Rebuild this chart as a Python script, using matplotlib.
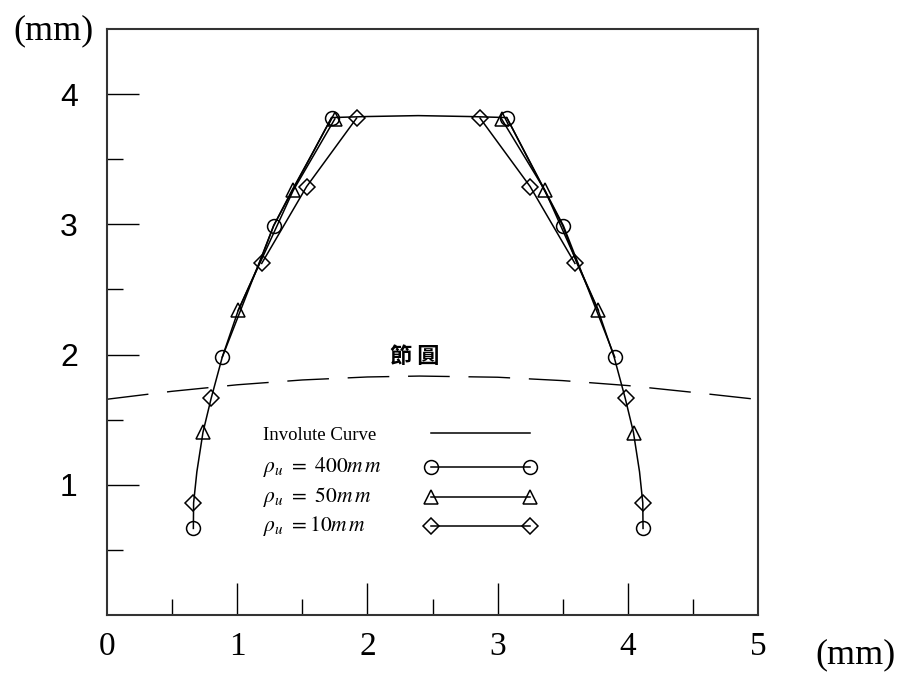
import matplotlib
matplotlib.use("Agg")
import matplotlib.pyplot as plt
from matplotlib.lines import Line2D

# ---------------- data ----------------
# involute curve: left flank (bottom -> top), tip arc, right flank (top -> bottom)
involute_x = [0.663, 0.665, 0.690, 0.737, 0.800, 0.885, 1.008, 1.170, 1.280, 1.420, 1.580, 1.725,
              2.000, 2.390, 2.780,
              3.070, 3.210, 3.360, 3.500, 3.610, 3.772, 3.895, 3.980, 4.043, 4.090, 4.115, 4.117]
involute_y = [0.665, 0.862, 1.100, 1.404, 1.665, 1.980, 2.340, 2.700, 2.990, 3.260, 3.550, 3.820,
              3.828, 3.835, 3.828,
              3.820, 3.550, 3.260, 2.990, 2.700, 2.340, 1.980, 1.665, 1.404, 1.100, 0.862, 0.665]

# rho_u = 400 mm (circles)
r400_left_x = [0.663, 0.885, 1.280, 1.725]
r400_left_y = [0.665, 1.980, 2.990, 3.820]
r400_right_x = [3.070, 3.505, 3.900, 4.120]
r400_right_y = [3.820, 2.990, 1.980, 0.665]

# rho_u = 50 mm (triangles)
r50_left_x = [0.737, 1.008, 1.430, 1.750]
r50_left_y = [1.404, 2.340, 3.260, 3.810]
r50_right_x = [3.030, 3.364, 3.774, 4.050]
r50_right_y = [3.810, 3.260, 2.340, 1.394]

# rho_u = 10 mm (diamonds)
r10_left_x = [0.663, 0.800, 1.188, 1.533, 1.917]
r10_left_y = [0.862, 1.665, 2.700, 3.290, 3.816]
r10_right_x = [2.865, 3.250, 3.594, 3.983, 4.120]
r10_right_y = [3.816, 3.290, 2.700, 1.663, 0.862]

# pitch circle (dashed)
pitch_x = [0.0, 0.5, 1.0, 1.5, 2.0, 2.4, 3.0, 3.5, 4.0, 4.5, 5.0]
pitch_y = [1.657, 1.718, 1.768, 1.805, 1.828, 1.835, 1.826, 1.800, 1.762, 1.710, 1.655]

x_ticks = [0, 1, 2, 3, 4, 5]
x_minor = [0.5, 1.5, 2.5, 3.5, 4.5]
y_ticks = [1, 2, 3, 4]
y_minor = [0.5, 1.5, 2.5, 3.5]

labels = ["Involute Curve",
          r"$\rho_u\ =\ 400\mathit{m\,m}$",
          r"$\rho_u\ =\ 50\mathit{m\,m}$",
          r"$\rho_u\ =10\mathit{m\,m}$"]
pitch_label = "節 圓"
unit = "(mm)"

# ---------------- figure ----------------
plt.rcParams["mathtext.fontset"] = "stix"
plt.rcParams["font.family"] = ["Liberation Serif", "DejaVu Serif"]

fig = plt.figure(figsize=(9.04, 6.78), dpi=100)
ax = fig.add_axes([0.1184, 0.0929, 0.7201, 0.8643])
ax.set_xlim(0, 5)
ax.set_ylim(0, 4.5)

lw = 1.1
ms = 10
black = "black"

# involute curve
ax.plot(involute_x, involute_y, color=black, lw=lw)

# series: markers everywhere, lines on the upper (deviating) part
series = [
    (r400_left_x, r400_left_y, r400_right_x, r400_right_y, "o", 1, 3, ms),
    (r50_left_x, r50_left_y, r50_right_x, r50_right_y, "^", 1, 3, ms),
    (r10_left_x, r10_left_y, r10_right_x, r10_right_y, "D", 2, 3, ms * 0.8),
]
for lx, ly, rx, ry, mk, lstart, rend, size in series:
    ax.plot(lx[lstart:], ly[lstart:], color=black, lw=lw)
    ax.plot(rx[:rend], ry[:rend], color=black, lw=lw)
    ax.plot(lx, ly, ls="none", marker=mk, ms=size, mfc="none", mec=black, mew=1.1)
    ax.plot(rx, ry, ls="none", marker=mk, ms=size, mfc="none", mec=black, mew=1.1)

# pitch circle
ax.plot(pitch_x, pitch_y, color=black, lw=1.0, dashes=(30, 13.5))
ax.text(0.473, 0.442, pitch_label, transform=ax.transAxes, ha="center", va="center",
        fontsize=16, fontweight="bold", family=["Noto Sans CJK TC", "DejaVu Sans"])

# legend (drawn manually: text left, sample right)
row_y = [0.307, 0.2526, 0.2014, 0.152]
sizes = [13.5, 15.5, 15.5, 15.5]
handles = [("none", 0), ("o", ms), ("^", ms), ("D", ms * 0.8)]
for (mk, size), lab, yy, fs in zip(handles, labels, row_y, sizes):
    ax.text(0.2396, yy, lab, transform=ax.transAxes, ha="left", va="center", fontsize=fs)
    ly_ = yy + (0.004 if mk == "none" else 0)
    ln = Line2D([0.4977, 0.6498], [ly_, ly_], color=black, lw=lw,
                marker=None if mk == "none" else mk, ms=size, mfc="none", mec=black, mew=1.1,
                transform=ax.transAxes)
    ax.add_line(ln)

# spines & ticks
for s in ax.spines.values():
    s.set_linewidth(1.5)
    s.set_color("#333333")

ax.set_xticks(x_ticks)
ax.set_xticks(x_minor, minor=True)
ax.set_yticks(y_ticks)
ax.set_yticks(y_minor, minor=True)
ax.set_xticklabels([str(v) for v in x_ticks], fontsize=24, family="Liberation Serif")
ax.set_yticklabels([str(v) for v in y_ticks], fontsize=23, family="Liberation Sans")
ax.tick_params(axis="both", which="major", direction="in", length=23, width=1.0, color=black)
ax.tick_params(axis="both", which="minor", direction="in", length=11.5, width=1.0, color=black)
ax.tick_params(axis="x", which="major", pad=12)
ax.tick_params(axis="y", which="major", pad=21)
xt = ax.xaxis.get_major_ticks()
for t in (xt[0], xt[-1]):
    t.tick1line.set_visible(False)

fig.text(54 / 904, 1 - 31 / 678, unit, ha="center", va="center", fontsize=26)
fig.text(856 / 904, 1 - 655 / 678, unit, ha="center", va="center", fontsize=26)

fig.savefig("out.png", dpi=100)
